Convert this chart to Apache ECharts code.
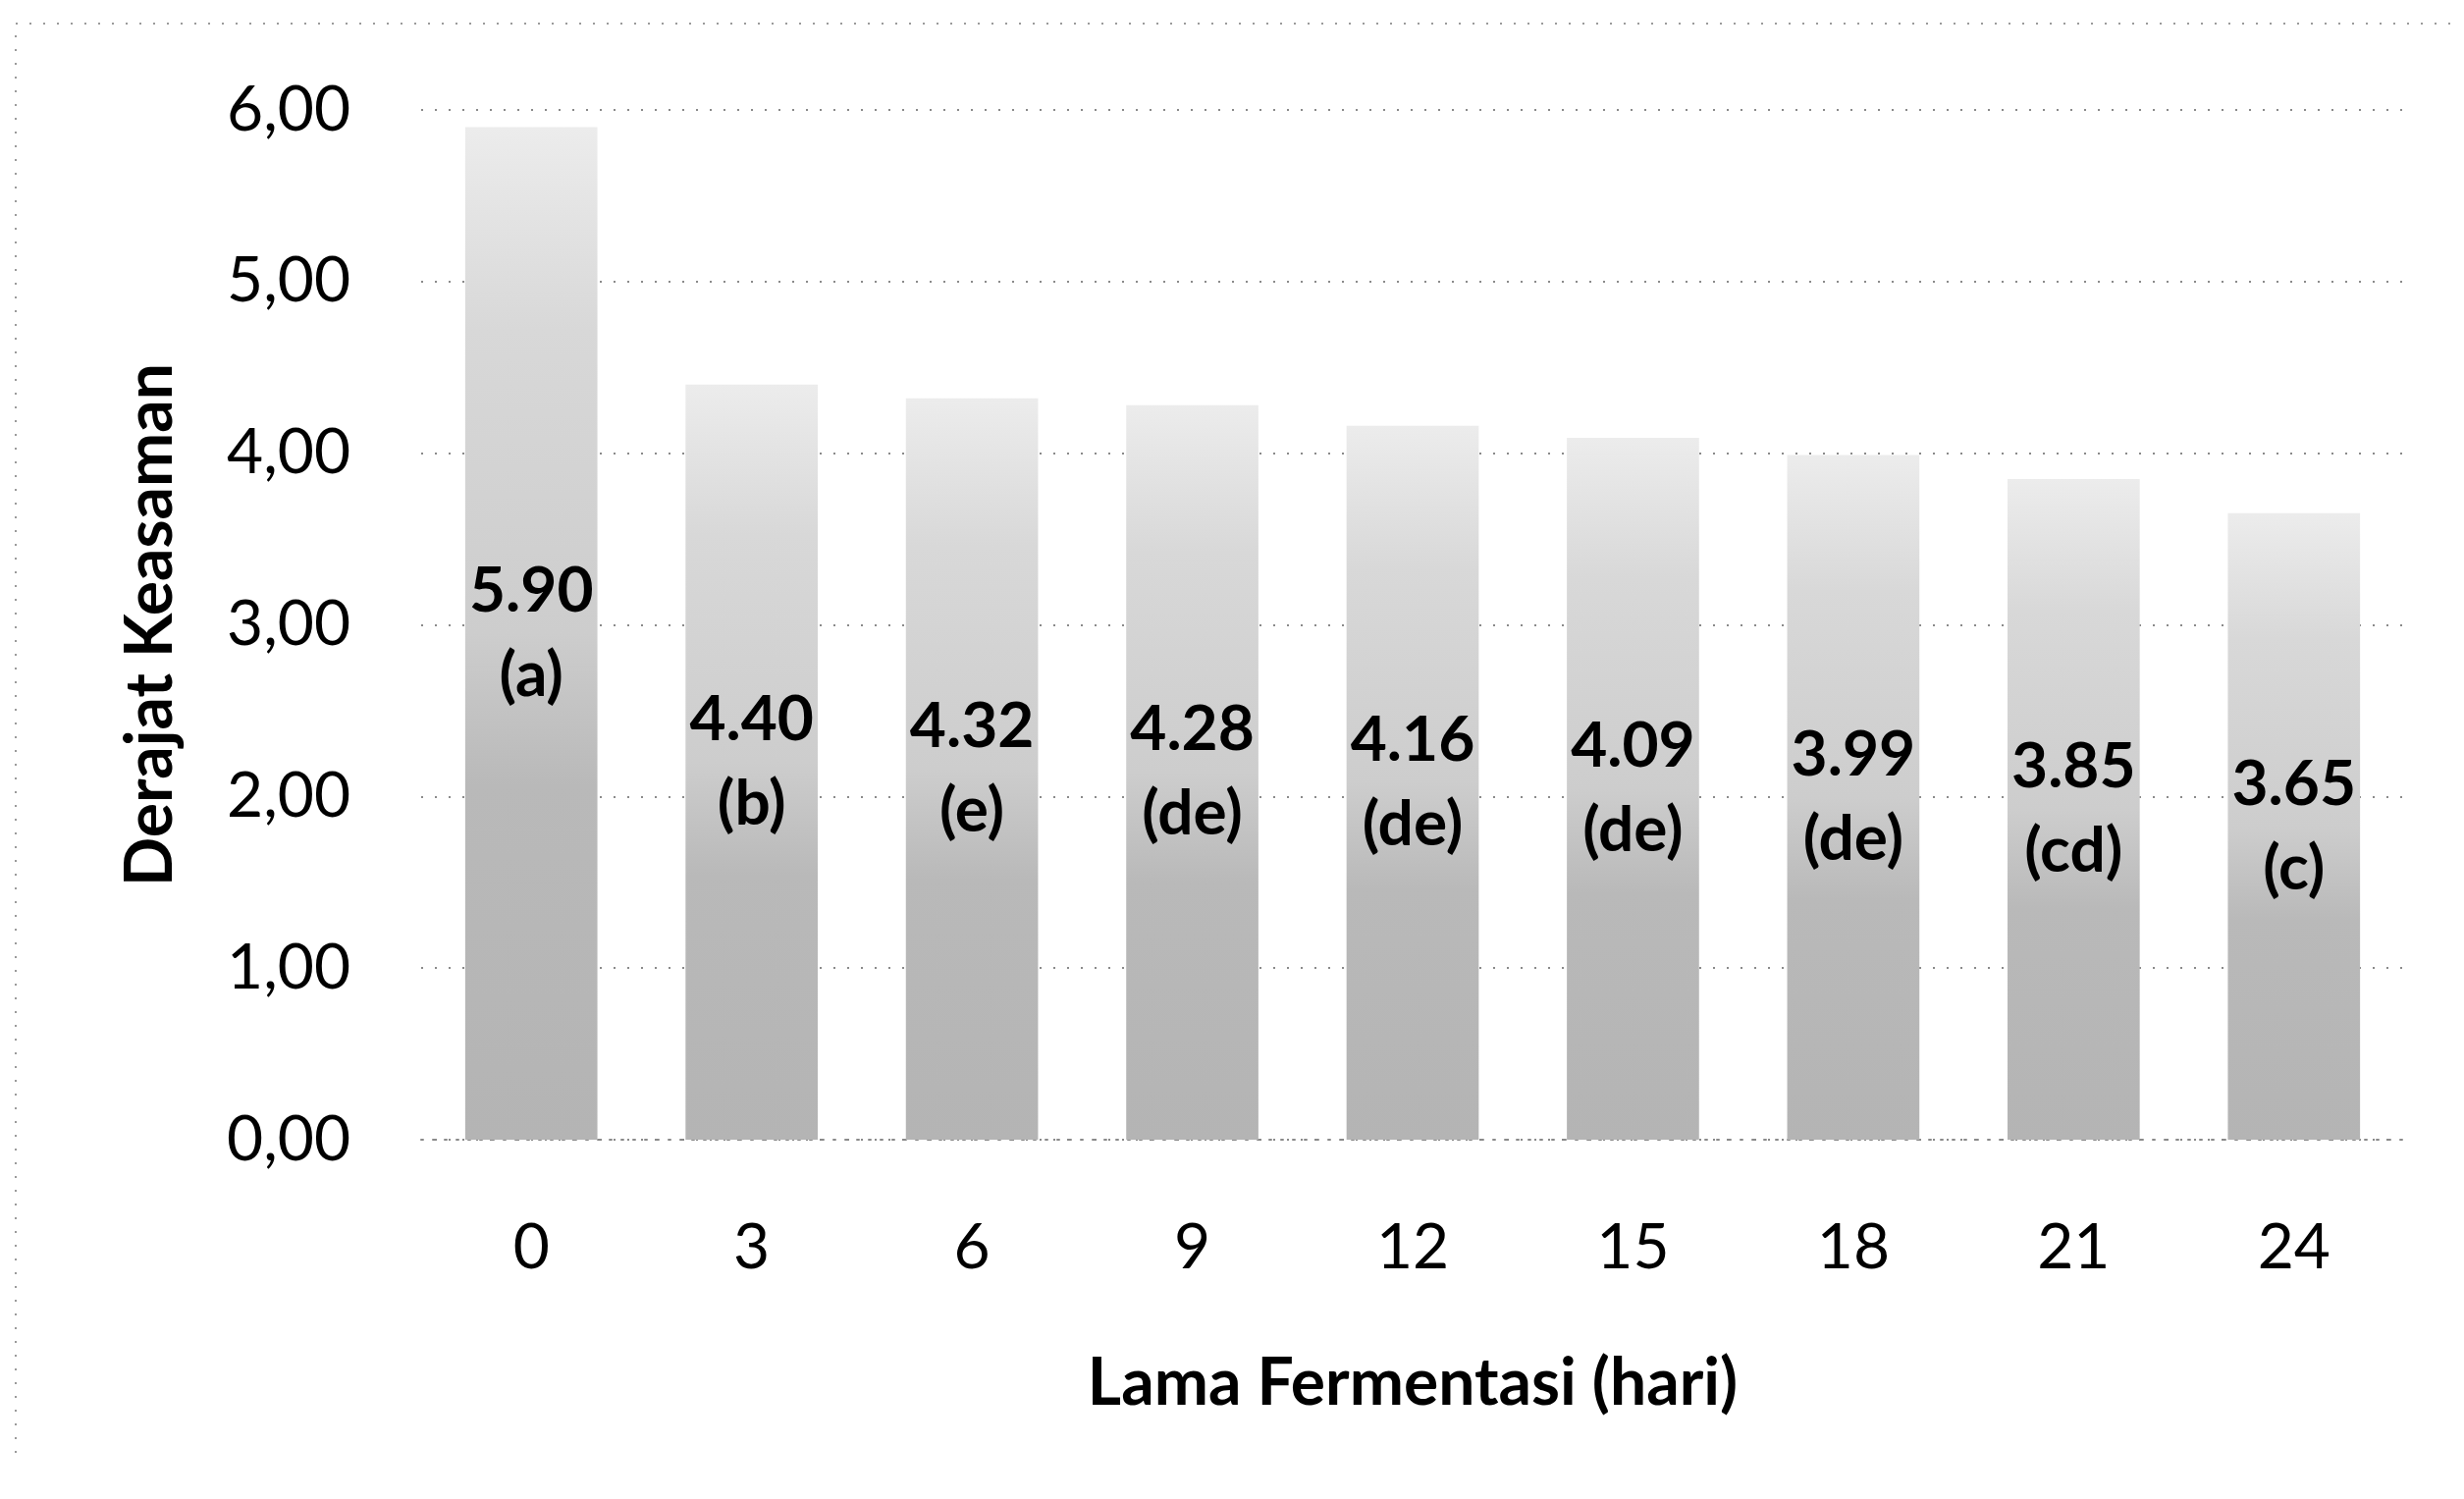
<!DOCTYPE html>
<html>
<head>
<meta charset="utf-8">
<script src="https://cdn.jsdelivr.net/npm/echarts@6/dist/echarts.min.js"></script>
<style>
html,body{margin:0;padding:0;background:#fff;}
#chart{width:2510px;height:1527px;}
</style>
</head>
<body>
<div id="chart"></div>
<script>
var categories = ['0','3','6','9','12','15','18','21','24'];
var phValues = [5.90, 4.40, 4.32, 4.28, 4.16, 4.09, 3.99, 3.85, 3.65];
var notations = ['a','b','e','de','de','de','de','cd','c'];
var yTicks = [0, 1, 2, 3, 4, 5, 6];

var chart = echarts.init(document.getElementById('chart'), null, {renderer:'canvas'});
var font = 'Lato, "Open Sans", sans-serif';

chart.setOption({
  animation: false,
  backgroundColor: '#ffffff',
  grid: {left: 429, right: 61, top: 112, bottom: 366, containLabel: false},
  graphic: [{
    type: 'polyline',
    shape: {points: [[16, 1480], [16, 24], [2500, 24]]},
    style: {stroke: '#9a9a9a', lineWidth: 2, lineDash: [2, 12], fill: null},
    silent: true
  }],
  xAxis: {
    type: 'category',
    data: categories,
    name: 'Lama Fermentasi (hari)',
    nameLocation: 'middle',
    nameGap: 216,
    nameTextStyle: {fontFamily: font, fontWeight: 'bold', fontSize: 66, color: '#000'},
    axisLine: {show: true, lineStyle: {color: '#8a8a8a', width: 2, type: [2, 10]}},
    axisTick: {show: false},
    axisLabel: {fontFamily: font, fontSize: 64, color: '#000', margin: 78}
  },
  yAxis: {
    type: 'value',
    min: 0, max: 6, interval: 1,
    name: 'Derajat Keasaman',
    nameLocation: 'middle',
    nameGap: 242,
    nameRotate: 90,
    nameTextStyle: {fontFamily: font, fontWeight: 'bold', fontSize: 66, color: '#000'},
    axisLine: {show: false},
    axisTick: {show: false},
    axisLabel: {
      fontFamily: font, fontSize: 64, color: '#000', margin: 72,
      formatter: function (v) { return v.toFixed(2).replace('.', ','); }
    },
    splitLine: {show: true, lineStyle: {color: '#8a8a8a', width: 2, type: [2, 12]}}
  },
  series: [{
    type: 'bar',
    data: phValues,
    barWidth: '60%',
    itemStyle: {
      color: {
        type: 'linear', x: 0, y: 0, x2: 0, y2: 1,
        colorStops: [
          {offset: 0, color: '#ececec'},
          {offset: 0.2, color: '#d8d8d8'},
          {offset: 0.5, color: '#cdcdcd'},
          {offset: 0.65, color: '#b9b9b9'},
          {offset: 1, color: '#b4b4b4'}
        ]
      }
    },
    label: {
      show: true,
      position: 'inside',
      fontFamily: font,
      fontWeight: 'bold',
      fontSize: 64,
      lineHeight: 86,
      color: '#000',
      formatter: function (p) {
        return phValues[p.dataIndex].toFixed(2) + '\n(' + notations[p.dataIndex] + ')';
      }
    }
  }]
});
</script>
</body>
</html>
